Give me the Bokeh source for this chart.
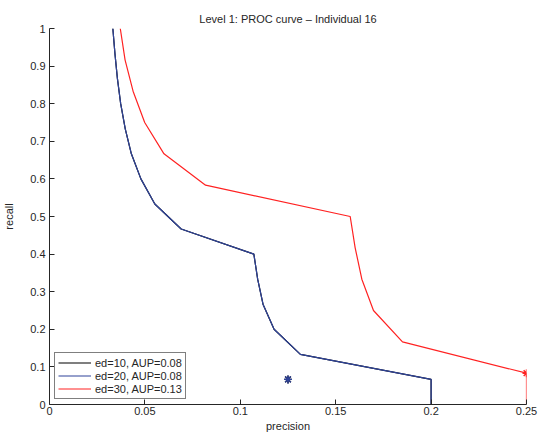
from bokeh.plotting import figure
from bokeh.models import Range1d, FixedTicker, Legend, LegendItem
from bokeh.embed import file_html
from bokeh.resources import INLINE

# ---- data ----
recall_ed10 = [1.0, 0.9333, 0.8667, 0.8, 0.7333, 0.6667, 0.6, 0.5333, 0.4667,
               0.4, 0.3333, 0.2667, 0.2, 0.1333, 0.0667, 0.0]
precision_ed10 = [0.0332, 0.0343, 0.0356, 0.0373, 0.0397, 0.0429, 0.0479, 0.0552,
                  0.0690, 0.1071, 0.1091, 0.1119, 0.1177, 0.1315, 0.2, 0.2]
recall_ed20 = list(recall_ed10)
precision_ed20 = list(precision_ed10)
recall_ed30 = [1.0, 0.9167, 0.8333, 0.75, 0.6667, 0.5833, 0.5, 0.4167, 0.3333,
               0.25, 0.1667, 0.0833, 0.0]
precision_ed30 = [0.0371, 0.0396, 0.0438, 0.0499, 0.0600, 0.0818, 0.1576, 0.1602,
                  0.1637, 0.1698, 0.1850, 0.25, 0.25]
star_precision = [0.125, 0.125, 0.25]
star_recall = [0.0667, 0.0667, 0.0833]
legend_labels = ["ed=10, AUP=0.08", "ed=20, AUP=0.08", "ed=30, AUP=0.13"]
x_ticks = [0, 0.05, 0.1, 0.15, 0.2, 0.25]
x_tick_labels = ["0", "0.05", "0.1", "0.15", "0.2", "0.25"]
y_ticks = [0, 0.1, 0.2, 0.3, 0.4, 0.5, 0.6, 0.7, 0.8, 0.9, 1]
y_tick_labels = ["0", "0.1", "0.2", "0.3", "0.4", "0.5", "0.6", "0.7", "0.8", "0.9", "1"]

FONT = "Liberation Sans"
TXT = "#262626"
BLACK = "#000000"
BLUE = "#2f4399"
RED = "#ff2222"

p = figure(width=540, height=434, output_backend="svg", toolbar_location=None,
           x_range=Range1d(0, 0.25), y_range=Range1d(0, 1),
           min_border_left=48, min_border_right=14, min_border_top=28,
           min_border_bottom=30, title="Level 1: PROC curve \u2013 Individual 16")
p.outline_line_color = None
p.grid.visible = False
p.background_fill_color = "white"
p.border_fill_color = "white"

p.title.text_font = FONT
p.title.text_font_size = "11px"
p.title.text_font_style = "normal"
p.title.text_color = TXT
p.title.align = "center"
p.title.standoff = 7
p.title.offset = -9

for ax, ticks, labels in ((p.xaxis, x_ticks, x_tick_labels), (p.yaxis, y_ticks, y_tick_labels)):
    ax.ticker = FixedTicker(ticks=ticks)
    ax.major_label_overrides = {t: l for t, l in zip(ticks, labels)}
    ax.major_tick_in = 5
    ax.major_tick_out = 0
    ax.minor_tick_line_color = None
    ax.axis_line_color = TXT
    ax.major_tick_line_color = TXT
    ax.major_label_text_font = FONT
    ax.major_label_text_font_size = "11px"
    ax.major_label_text_color = TXT
    ax.axis_label_text_font = FONT
    ax.axis_label_text_font_size = "11px"
    ax.axis_label_text_font_style = "normal"
    ax.axis_label_text_color = TXT

p.xaxis.axis_label = "precision"
p.yaxis.axis_label = "recall"
p.xaxis.major_label_standoff = 2
p.xaxis.axis_label_standoff = 2
p.yaxis.major_label_standoff = 4
p.yaxis.axis_label_standoff = 12

r10 = p.line(precision_ed10, recall_ed10, line_color=BLACK, line_width=1.2)
r20 = p.line(precision_ed20, recall_ed20, line_color=BLUE, line_width=1.2)
r30 = p.line(precision_ed30, recall_ed30, line_color=RED, line_width=1.2)
p.scatter(star_precision, star_recall, marker="asterisk", size=8,
          line_color=[BLACK, BLUE, RED], line_width=1.4)

legend = Legend(items=[LegendItem(label=legend_labels[0], renderers=[r10]),
                       LegendItem(label=legend_labels[1], renderers=[r20]),
                       LegendItem(label=legend_labels[2], renderers=[r30])],
                location=(5, 5))
legend.border_line_color = BLACK
legend.border_line_width = 1
legend.label_text_font = FONT
legend.label_text_font_size = "11px"
legend.label_text_color = TXT
legend.glyph_width = 33
legend.glyph_height = 13
legend.label_height = 13
legend.label_standoff = 4
legend.spacing = 0
legend.padding = 3
legend.margin = 0
p.add_layout(legend, "center")

open("out.html", "w").write(file_html(p, INLINE))
